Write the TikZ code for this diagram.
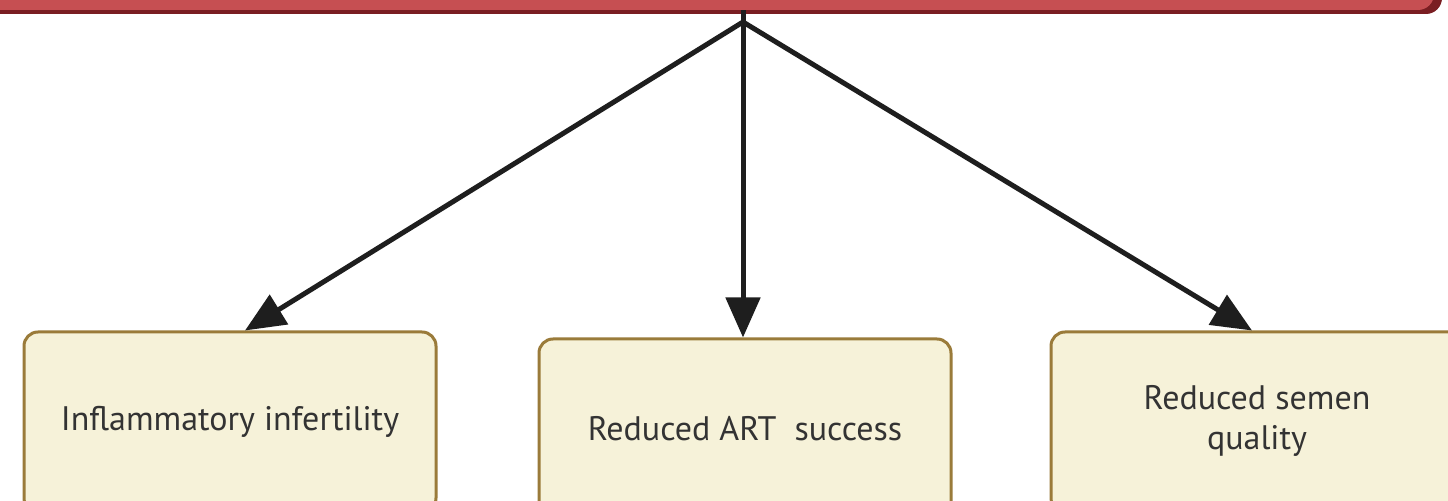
\documentclass[tikz,border=0pt]{standalone}
\usepackage{fontspec}
\setmainfont{PT Sans}
\usetikzlibrary{arrows.meta}
\definecolor{topred}{HTML}{C64F52}
\definecolor{topdark}{HTML}{7A1E22}
\definecolor{boxfill}{HTML}{F6F2D9}
\definecolor{boxline}{HTML}{9A7B3A}
\definecolor{txt}{HTML}{333333}
\definecolor{arr}{HTML}{1E1E1E}
\tikzset{
  outbox/.style={draw=boxline, line width=1.5pt, fill=boxfill, rounded corners=7pt,
    minimum width=206pt, minimum height=90pt, align=center, text=txt,
    font=\fontsize{17pt}{20pt}\selectfont, inner sep=0pt},
  arrowline/.style={draw=arr, line width=2.5pt, -{Triangle[length=20pt,width=17pt]}}
}
\begin{document}
\begin{tikzpicture}[x=0.5pt,y=-0.5pt]
\useasboundingbox (0,0) rectangle (1448,501);
\clip (0,0) rectangle (1448,501);
% top box (mostly outside the picture)
\fill[topdark, rounded corners=8pt] (-40,-200) rectangle (1442,14);
\node[fill=topred, rounded corners=8pt, minimum width=737pt, minimum height=100pt, inner sep=0pt] (top) at (697,-90) {};
\coordinate (hub) at (743,22);
% boxes
\node[outbox] (b1) at (230,422) {Inflammatory infertility};
\node[outbox] (b2) at (745,429) {Reduced ART\ \ success};
\node[outbox] (b3) at (1257,422) {Reduced semen\\quality\\[-15pt]};
% arrows
\draw[arr, line width=2.5pt] (top.south -| hub) -- (hub);
\draw[arrowline] (hub) -- ([xshift=7.5pt]b1.north);
\draw[arrowline] (hub) -- ([xshift=-1pt]b2.north);
\draw[arrowline] (hub) -- ([xshift=-2.5pt]b3.north);
\end{tikzpicture}
\end{document}
